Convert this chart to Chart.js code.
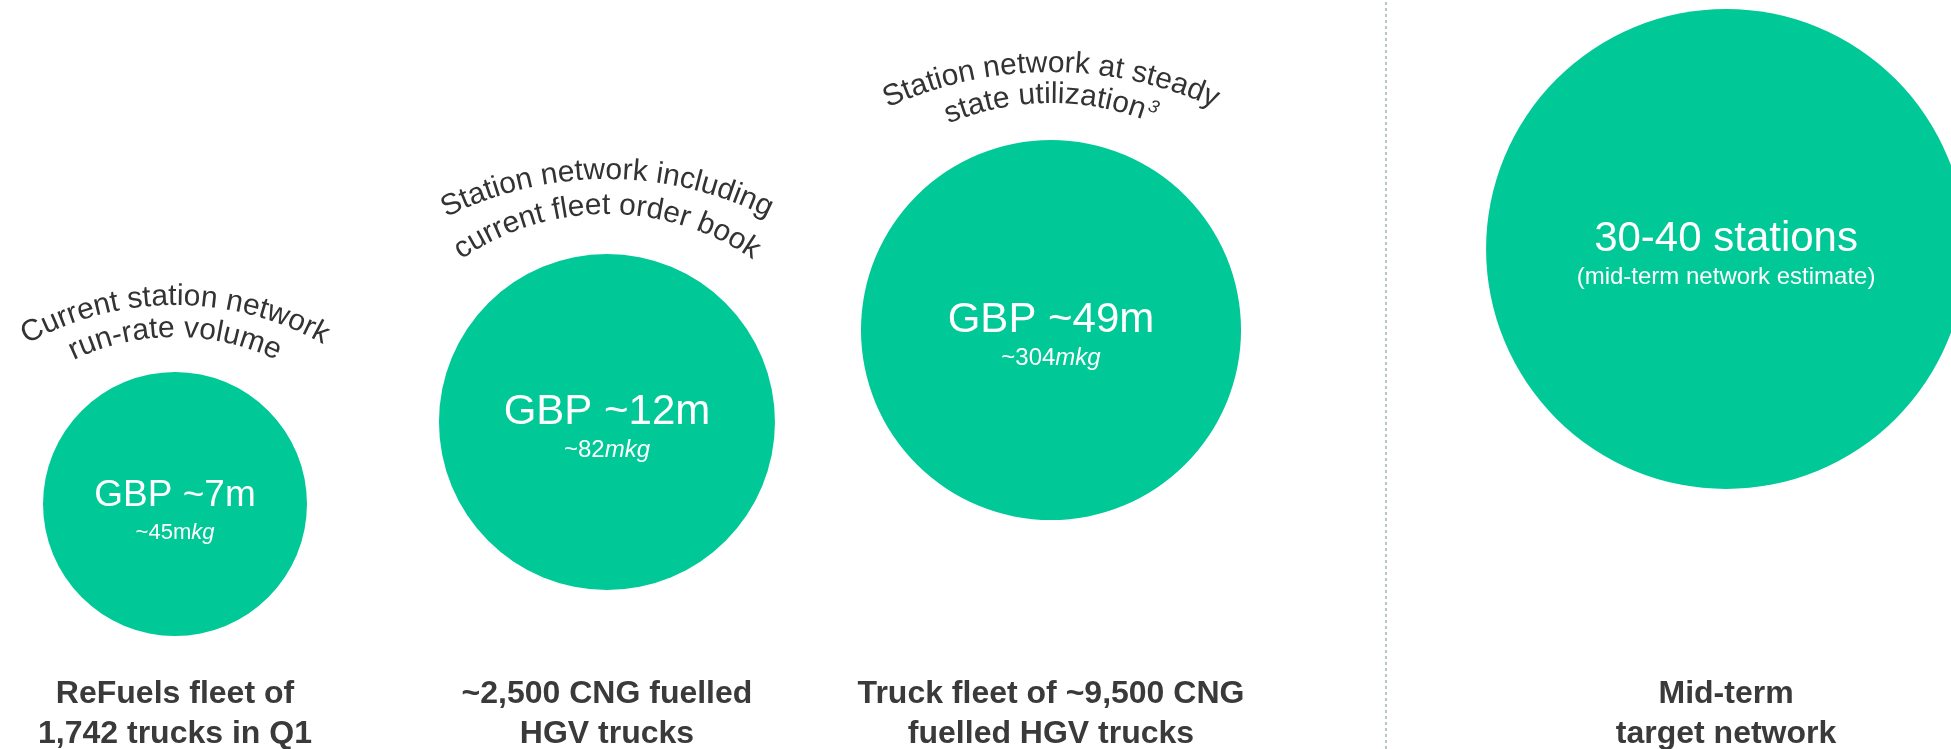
<!DOCTYPE html>
<html>
<head>
<meta charset="utf-8">
<title>Station network volume</title>
<script src="https://cdn.jsdelivr.net/npm/chart.js@4.4.1/dist/chart.umd.min.js"></script>
<style>
  html, body { margin: 0; padding: 0; background: #ffffff; }
  #wrap { width: 1951px; height: 749px; }
</style>
</head>
<body>
<div id="wrap"><canvas id="stationChart" width="1951" height="749"></canvas></div>
<script>
// Data: one bubble per network scenario, left to right
const scenarios = ["Current", "Order book", "Steady state", "Mid-term"];
const volumeLabels = ["GBP ~7m", "GBP ~12m", "GBP ~49m", "30-40 stations"];
const volumeNotes = ["~45m", "~82", "~304", "(mid-term network estimate)"];
const volumeNoteUnits = ["kg", "mkg", "mkg", ""];
const arcTitles = [
  ["Current station network", "run-rate volume"],
  ["Station network including", "current fleet order book"],
  ["Station network at steady", "state utilization"],
  []
];
const arcFootnotes = ["", "", "3", ""];
const fleetLabels = [
  ["ReFuels fleet of", "1,742 trucks in Q1"],
  ["~2,500 CNG fuelled", "HGV trucks"],
  ["Truck fleet of ~9,500 CNG", "fuelled HGV trucks"],
  ["Mid-term", "target network"]
];
// slot grid is 0-100 on both axes
const slotX = [8.97, 31.11, 53.87, 88.47];
const slotY = [32.71, 43.66, 55.94, 66.76];
const bubbleSize = [17.62, 22.43, 25.37, 32.04];
const dividerX = [71.04, 71.04];
const dividerY = [0, 100];

// Styles
const GREEN = "#00c896";
const DARK = "#333333";
const FONT = "'Liberation Sans', Arial, sans-serif";
const mainSize = [37, 42, 42, 42];
const noteSize = [22, 24, 24, 24];
const arcRadius = [[300, 235], [356, 256], [391, 265]];
const arcLift = [[67, 35], [75, 40], [68, 37]];

function drawArcText(ctx, text, cx, apexY, R, footnote) {
  ctx.font = "30px " + FONT;
  let total = ctx.measureText(text).width;
  let fnWidth = 0;
  if (footnote) {
    ctx.font = "italic 18px " + FONT;
    fnWidth = ctx.measureText(footnote).width + 2;
    total += fnWidth;
  }
  const cy = apexY + R;
  let angle = -total / (2 * R);
  ctx.font = "30px " + FONT;
  for (const ch of text) {
    const w = ctx.measureText(ch).width;
    const a = angle + w / (2 * R);
    ctx.save();
    ctx.translate(cx + R * Math.sin(a), cy - R * Math.cos(a));
    ctx.rotate(a);
    ctx.fillText(ch, 0, 0);
    ctx.restore();
    angle += w / R;
  }
  if (footnote) {
    ctx.font = "italic 18px " + FONT;
    const a = angle + fnWidth / (2 * R);
    ctx.save();
    ctx.translate(cx + (R + 10) * Math.sin(a), cy - (R + 10) * Math.cos(a));
    ctx.rotate(a);
    ctx.fillText(footnote, 0, 0);
    ctx.restore();
  }
}

const labelPlugin = {
  id: "bubbleLabels",
  afterDatasetsDraw(chart) {
    const ctx = chart.ctx;
    const meta = chart.getDatasetMeta(0);
    ctx.save();
    ctx.textAlign = "center";
    ctx.textBaseline = "alphabetic";
    meta.data.forEach((el, i) => {
      const r = el.options.radius;
      const x = el.x, y = el.y;

      // value inside the bubble
      ctx.fillStyle = "#ffffff";
      ctx.textAlign = "center";
      ctx.font = mainSize[i] + "px " + FONT;
      ctx.fillText(volumeLabels[i], x, y + 2);

      ctx.font = noteSize[i] + "px " + FONT;
      const w1 = ctx.measureText(volumeNotes[i]).width;
      ctx.font = "italic " + noteSize[i] + "px " + FONT;
      const w2 = ctx.measureText(volumeNoteUnits[i]).width;
      const start = x - (w1 + w2) / 2;
      ctx.textAlign = "left";
      ctx.font = noteSize[i] + "px " + FONT;
      ctx.fillText(volumeNotes[i], start, y + 35);
      ctx.font = "italic " + noteSize[i] + "px " + FONT;
      ctx.fillText(volumeNoteUnits[i], start + w1, y + 35);

      // curved heading above the bubble
      ctx.fillStyle = DARK;
      ctx.textAlign = "center";
      arcTitles[i].forEach((line, k) => {
        const last = k === arcTitles[i].length - 1;
        drawArcText(ctx, line, x, y - r - arcLift[i][k], arcRadius[i][k], last ? arcFootnotes[i] : "");
      });

      // fleet description under the bubble
      ctx.fillStyle = "#3a3a3a";
      ctx.font = "bold 32px " + FONT;
      ctx.fillText(fleetLabels[i][0], x, chart.height - 46);
      ctx.fillText(fleetLabels[i][1], x, chart.height - 6);
    });
    ctx.restore();
  }
};

const ctx = document.getElementById("stationChart").getContext("2d");
const chart = new Chart(ctx, {
  type: "bubble",
  data: {
    labels: scenarios,
    datasets: [{
      label: "Station network volume",
      data: slotX.map((x, i) => ({ x: x, y: slotY[i], r: 0 })),
      backgroundColor: GREEN,
      borderWidth: 0,
      clip: false
    }, {
      type: "line",
      label: "divider",
      data: dividerX.map((x, i) => ({ x: x, y: dividerY[i] })),
      borderColor: "#9fb3b3",
      borderWidth: 1.5,
      borderDash: [3, 3],
      pointRadius: 0,
      fill: false
    }]
  },
  options: {
    responsive: false,
    devicePixelRatio: 1,
    animation: false,
    events: [],
    layout: { padding: 0, autoPadding: false },
    plugins: {
      legend: { display: false },
      tooltip: { enabled: false }
    },
    scales: {
      x: { type: "linear", min: 0, max: 100, display: false },
      y: { type: "linear", min: 0, max: 100, display: false }
    }
  },
  plugins: [labelPlugin]
});

// bubble size is given in y-axis units, turn it into pixels with the y scale
const yScale = chart.scales.y;
chart.data.datasets[0].data = slotX.map((x, i) => ({
  x: x,
  y: slotY[i],
  r: yScale.getPixelForValue(0) - yScale.getPixelForValue(bubbleSize[i])
}));
chart.update("none");
</script>
</body>
</html>
